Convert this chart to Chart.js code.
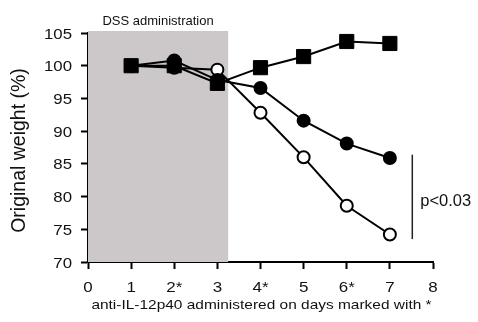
<!DOCTYPE html>
<html>
<head>
<meta charset="utf-8">
<script src="https://cdn.jsdelivr.net/npm/chart.js@4/dist/chart.umd.min.js"></script>
<style>
html,body{margin:0;padding:0;background:#fff;}
canvas{display:block;}
</style>
</head>
<body>
<canvas id="c" width="478" height="322"></canvas>
<script>
const days = [1, 2, 3, 4, 5, 6, 7];
const xTickLabels = ["0", "1", "2*", "3", "4*", "5", "6*", "7", "8"];
const yTicks = [70, 75, 80, 85, 90, 95, 100, 105];
const squares = [100, 100, 97.3, 99.7, 101.4, 103.7, 103.4];
const filledCircles = [100, 100.8, 97.8, 96.6, 91.6, 88.1, 85.9];
const openCircles = [100, 99.7, 99.4, 92.8, 86.0, 78.6, 74.2];
const dssStart = 0;
const dssEnd = 3.25;
const dssLabel = "DSS administration";
const pLineX = 7.52;
const pLineRange = [86.4, 73.5];
const pLabel = "p<0.03";
const pLabelY = 78.5;
const xTitle = "anti-IL-12p40 administered on days marked with *";
const yTitle = "Original weight (%)";

const FONT = "'Liberation Sans', Arial, sans-serif";

function pts(vals) { return days.map((d, i) => ({ x: d, y: vals[i] })); }

function sText(ctx, text, x, y, sx, align, font) {
  ctx.save();
  ctx.translate(x, y);
  ctx.scale(sx, 1);
  ctx.font = font;
  ctx.textAlign = align;
  ctx.textBaseline = 'alphabetic';
  ctx.fillText(text, 0, 0);
  ctx.restore();
}

const annot = {
  id: 'annot',
  beforeDatasetsDraw(chart) {
    const { ctx, chartArea, scales } = chart;
    const x0 = scales.x.getPixelForValue(dssStart);
    const x1 = scales.x.getPixelForValue(dssEnd);
    ctx.save();
    ctx.fillStyle = '#ccc7c8';
    ctx.fillRect(x0, chartArea.top - 2, x1 - x0, chartArea.bottom - chartArea.top + 2);
    ctx.restore();
  },
  afterDraw(chart) {
    const { ctx, chartArea, scales } = chart;
    const x0 = scales.x.getPixelForValue(dssStart);
    const x1 = scales.x.getPixelForValue(dssEnd);
    ctx.save();
    ctx.fillStyle = '#111';
    // DSS label
    sText(ctx, dssLabel, (x0 + x1) / 2, chartArea.top - 8, 1, 'center', '13px ' + FONT);
    // x tick labels
    xTickLabels.forEach((lab, i) => {
      sText(ctx, lab, scales.x.getPixelForValue(i), chartArea.bottom + 30, 1.13, 'center', '15px ' + FONT);
    });
    // y tick labels
    yTicks.forEach(v => {
      sText(ctx, String(v), chartArea.left - 16, scales.y.getPixelForValue(v) + 5.5, 1.12, 'right', '15px ' + FONT);
    });
    // x title
    sText(ctx, xTitle, (chartArea.left + chartArea.right) / 2 + 1, chartArea.bottom + 47, 1.145, 'center', '13.5px ' + FONT);
    // y title
    ctx.save();
    ctx.translate(25, (chartArea.top + chartArea.bottom) / 2 + 3);
    ctx.rotate(-Math.PI / 2);
    ctx.font = '19.5px ' + FONT;
    ctx.textAlign = 'center';
    ctx.textBaseline = 'alphabetic';
    ctx.fillText(yTitle, 0, 0);
    ctx.restore();
    // p bracket
    const px = scales.x.getPixelForValue(pLineX);
    ctx.strokeStyle = '#222';
    ctx.lineWidth = 1.5;
    ctx.beginPath();
    ctx.moveTo(px, scales.y.getPixelForValue(pLineRange[0]));
    ctx.lineTo(px, scales.y.getPixelForValue(pLineRange[1]));
    ctx.stroke();
    sText(ctx, pLabel, px + 8, scales.y.getPixelForValue(pLabelY), 1, 'left', '16.5px ' + FONT);
    ctx.restore();
  }
};

const common = {
  showLine: true,
  borderColor: '#000',
  borderWidth: 2,
  pointBorderColor: '#000',
  pointBorderWidth: 2,
  pointHoverRadius: 6,
  tension: 0
};

new Chart(document.getElementById('c'), {
  type: 'scatter',
  data: {
    datasets: [
      Object.assign({}, common, { label: 'squares', data: pts(squares), pointStyle: 'rect', pointRadius: 10, pointBorderWidth: 1, pointBackgroundColor: '#000' }),
      Object.assign({}, common, { label: 'filled', data: pts(filledCircles), pointStyle: 'circle', pointRadius: 6, pointBackgroundColor: '#000' }),
      Object.assign({}, common, { label: 'open', data: pts(openCircles), pointStyle: 'circle', pointRadius: 6, pointBackgroundColor: '#fff' })
    ]
  },
  options: {
    responsive: false,
    devicePixelRatio: 1,
    animation: false,
    clip: false,
    layout: { padding: { left: 0, right: 45, top: 33, bottom: 0 } },
    plugins: { legend: { display: false }, tooltip: { enabled: false } },
    scales: {
      x: {
        type: 'linear', min: 0, max: 8,
        afterFit(s) { s.height = 60; },
        afterBuildTicks(s) { s.ticks = xTickLabels.map((_, i) => ({ value: i })); },
        ticks: { callback: (v) => xTickLabels[v], color: 'rgba(0,0,0,0)', font: { family: FONT, size: 15 }, padding: 6, maxRotation: 0, autoSkip: false },
        grid: { drawOnChartArea: false, drawTicks: true, tickLength: 7, tickWidth: 2, tickColor: '#000' },
        border: { display: true, color: '#000', width: 2 },
        title: { display: false }
      },
      y: {
        type: 'linear', min: 70, max: 105,
        afterFit(s) { s.width = 88; },
        afterBuildTicks(s) { s.ticks = yTicks.map(v => ({ value: v })); },
        ticks: { color: 'rgba(0,0,0,0)', font: { family: FONT, size: 15 }, padding: 8 },
        grid: { drawOnChartArea: false, drawTicks: true, tickLength: 7, tickWidth: 2, tickColor: '#000' },
        border: { display: true, color: '#000', width: 2 },
        title: { display: false }
      }
    }
  },
  plugins: [annot]
});
</script>
</body>
</html>
